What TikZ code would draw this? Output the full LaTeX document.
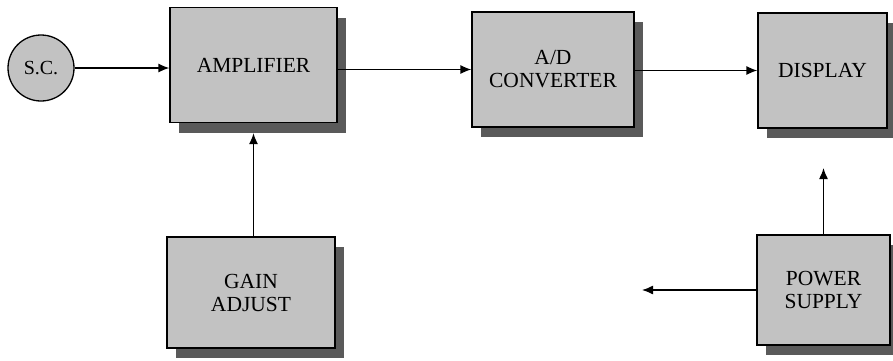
\documentclass[tikz,border=0pt]{standalone}
\usepackage{fontspec}
\setmainfont{Liberation Serif}
\usetikzlibrary{shadows,arrows.meta}
\definecolor{boxfill}{HTML}{C2C2C2}
\definecolor{shadowfill}{HTML}{5A5A5A}
\tikzset{
  blk/.style={draw=black, line width=1.3pt, fill=boxfill, align=center,
    font=\fontsize{21.5}{23}\selectfont, inner sep=0pt,
    drop shadow={shadow xshift=9pt, shadow yshift=-10pt, fill=shadowfill, opacity=1}},
  src/.style={circle, draw=black, line width=1.3pt, fill=boxfill,
    font=\fontsize{20}{22}\selectfont, inner sep=0pt, minimum size=66pt},
  arr/.style={line width=1.3pt, -{Latex[length=11pt,width=9pt]}}
}
\begin{document}
\begin{tikzpicture}[x=1pt,y=-1pt]
\useasboundingbox (0,0) rectangle (893,360);
\fill[white] (0,0) rectangle (893,360);
\node[src] (sc) at (41,68) {S.C.};
\node[blk, minimum width=167pt, minimum height=115pt] (amp) at (253.5,65) {AMPLIFIER};
\node[blk, minimum width=162pt, minimum height=115pt] (ad) at (553,69.5) {A/D\\CONVERTER};
\node[blk, minimum width=129pt, minimum height=115pt] (disp) at (822.5,70.5) {DISPLAY};
\node[blk, minimum width=168pt, minimum height=111pt] (gain) at (251,292.5) {GAIN\\ADJUST};
\node[blk, minimum width=133pt, minimum height=110pt] (ps) at (823.5,290) {POWER\\SUPPLY};
\coordinate (psup) at (823.5,168);
\coordinate (psleft) at (642,290);
\draw[arr] (sc.east) -- (sc.east -| amp.west);
\draw[arr] (ad.west -| amp.east) -- (ad.west);
\draw[arr] (disp.west -| ad.east) -- (disp.west);
\draw[arr] (amp.south |- gain.north) -- ([yshift=-10pt]amp.south);
\draw[arr] (ps.north) -- (psup);
\draw[arr] (ps.west) -- (psleft);
\end{tikzpicture}
\end{document}
